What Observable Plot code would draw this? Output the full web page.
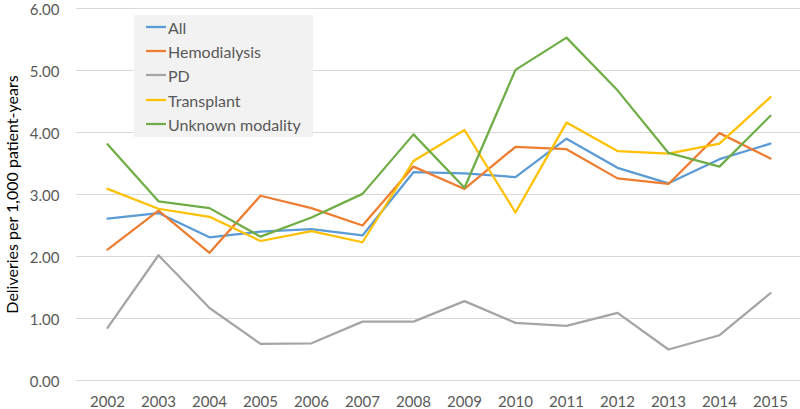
<!DOCTYPE html>
<html><head><meta charset="utf-8">
<script src="https://cdn.jsdelivr.net/npm/d3@7"></script>
<script src="https://cdn.jsdelivr.net/npm/@observablehq/plot@0.6"></script>
<style>
body{margin:0;background:#fff;font-family:Lato,sans-serif}
#wrap{position:relative;width:800px;height:409px}
#wrap svg{overflow:visible}
#legend{position:absolute;left:134px;top:15px;width:179px;height:122px;background:#f2f2f2;font-family:Lato,sans-serif;font-size:16px;color:#595959}
.row{position:relative;height:24.2px}
.row svg{position:absolute;left:12px;top:0}
.row span{position:absolute;left:34px;top:50%;transform:translateY(-50%);white-space:nowrap}
</style></head><body><div id="wrap"><div id="legend"></div></div>
<script>
const years = ["2002","2003","2004","2005","2006","2007","2008","2009","2010","2011","2012","2013","2014","2015"];
const allValues = [2.61,2.70,2.31,2.40,2.44,2.34,3.36,3.34,3.28,3.90,3.43,3.18,3.57,3.82];
const hemodialysis = [2.11,2.74,2.06,2.98,2.78,2.50,3.45,3.09,3.77,3.73,3.26,3.17,3.99,3.58];
const pd = [0.85,2.02,1.17,0.59,0.60,0.95,0.95,1.28,0.93,0.88,1.09,0.50,0.73,1.41];
const transplant = [3.09,2.77,2.64,2.25,2.41,2.23,3.54,4.04,2.71,4.16,3.70,3.66,3.82,4.57];
const unknownModality = [3.81,2.89,2.78,2.32,2.63,3.01,3.97,3.11,5.01,5.53,4.68,3.67,3.45,4.27];
const seriesNames = ["All","Hemodialysis","PD","Transplant","Unknown modality"];
const colors = ["#5B9BD5","#ED7D31","#A5A5A5","#FFC000","#70AD47"];
const yTicks = [0,1,2,3,4,5,6];
const yTitle = "Deliveries per 1,000 patient-years";

const seriesValues = [allValues, hemodialysis, pd, transplant, unknownModality];
const data = seriesNames.flatMap((s,i)=> years.map((y,j)=>({year:y, value:seriesValues[i][j], series:s})));

const chart = Plot.plot({
  width:800, height:409, marginLeft:76, marginRight:0, marginTop:8, marginBottom:29,
  style:{fontFamily:"Lato, sans-serif", fontSize:"15px", color:"#595959", background:"white", overflow:"visible"},
  x:{type:"point", domain:years, padding:0.5, label:null},
  y:{domain:[0,6], label:null},
  color:{domain:seriesNames, range:colors},
  marks:[
    Plot.gridY(yTicks,{stroke:"#d9d9d9", strokeOpacity:1, strokeWidth:1}),
    Plot.axisY(yTicks,{tickSize:0, tickPadding:17, tickFormat:d=>d.toFixed(2), fill:"#595959", label:null, dy:2}),
    Plot.axisX({tickSize:0, tickPadding:16, fill:"#595959", label:null}),
    Plot.text([yTitle],{frameAnchor:"left", textAnchor:"middle", rotate:-90, dx:-64, fill:"black", fontSize:16}),
    Plot.line(data,{x:"year", y:"value", z:"series", stroke:"series", strokeWidth:2.25, strokeLinejoin:"round", strokeLinecap:"round"})
  ]
});
document.getElementById("wrap").prepend(chart);

const legend = d3.select("#legend");
seriesNames.forEach((s,i)=>{
  const row = legend.append("div").attr("class","row");
  const svg = row.append("svg").attr("width",20).attr("height",24);
  svg.append("line").attr("x1",0).attr("x2",20).attr("y1",12).attr("y2",12).attr("stroke",colors[i]).attr("stroke-width",2.25);
  row.append("span").text(s);
});
</script>
</body></html>
